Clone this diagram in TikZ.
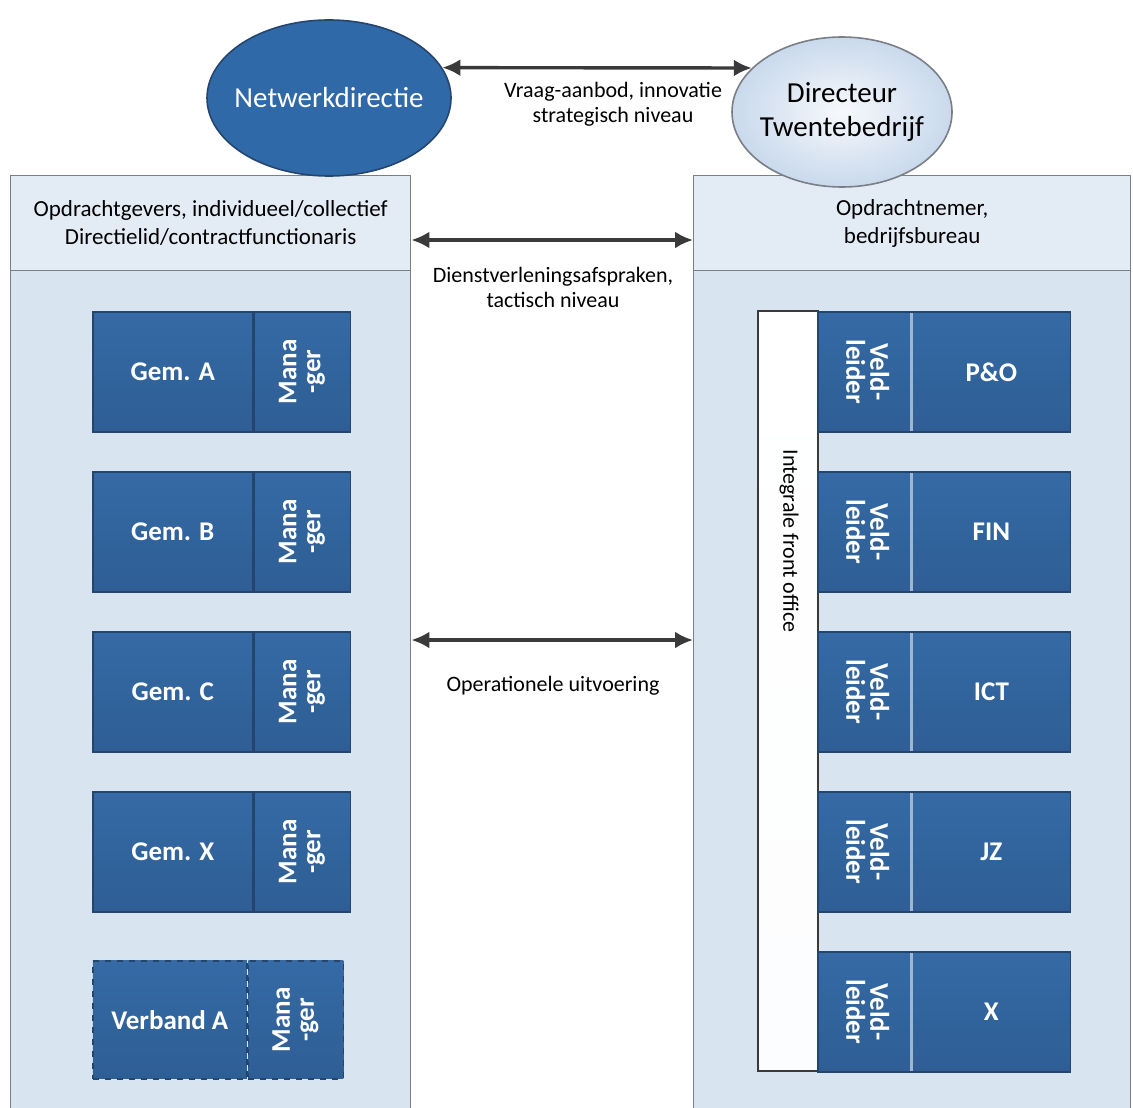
\documentclass[tikz,border=0pt]{standalone}
\usepackage{fontspec}
\setmainfont{Carlito}
\usetikzlibrary{arrows.meta,shapes.geometric}
\definecolor{boxblue}{HTML}{356AA5}
\definecolor{boxbluedk}{HTML}{2E5E94}
\definecolor{boxedge}{HTML}{24466E}
\definecolor{sepline}{HTML}{9FB5D0}
\definecolor{panelfill}{HTML}{D9E4F1}
\definecolor{headfill}{HTML}{E3EBF5}
\definecolor{paneledge}{HTML}{7A7F86}
\definecolor{arrowgray}{HTML}{3A3A3A}
\definecolor{lightell}{HTML}{C9D9EC}
\definecolor{ellblue}{HTML}{3069A8}
\newcommand{\vlab}[3]{\rotatebox{#1}{\begin{tabular}{@{}c@{}}#2\\[-3pt]#3\end{tabular}}}
\begin{document}
\begin{tikzpicture}[x=0.5pt,y=-0.5pt,
  panel/.style={draw=paneledge, fill=panelfill, line width=0.7pt, anchor=north west, inner sep=0pt},
  header/.style={draw=paneledge, fill=headfill, line width=0.7pt, anchor=north west, align=center,
    font=\fontsize{11.5}{14}\selectfont, inner sep=0pt},
  mainbox/.style={draw=boxedge, line width=0.8pt, top color=boxblue, bottom color=boxbluedk,
    anchor=north west, text=white, font=\fontsize{13.5}{16}\selectfont\bfseries, inner sep=0pt},
  sidebox/.style={mainbox, font=\fontsize{13.5}{15}\selectfont\bfseries},
  strip/.style={draw=arrowgray, line width=0.8pt, top color=white, bottom color=white!92!panelfill,
    anchor=north west, inner sep=0pt},
  oval/.style={ellipse, inner sep=0pt, line width=0.8pt},
  conn/.style={draw=arrowgray, line width=1.7pt,
    {Latex[length=9pt,width=8.5pt]}-{Latex[length=9pt,width=8.5pt]}},
  lbl/.style={align=center, font=\fontsize{11}{12.5}\selectfont, text=black}
]
\useasboundingbox (0,0) rectangle (1133,1107);
\clip (0,0) rectangle (1133,1107);
\fill[white] (0,0) rectangle (1133,1107);

% client side panel
\node[panel, minimum width=200pt, minimum height=470pt] (lp) at (10,175) {};
\node[header, minimum width=200pt, minimum height=47.5pt] (lh) at (10,175)
  {Opdrachtgevers, individueel/collectief\\Directielid/contractfunctionaris};

% contractor side panel
\node[panel, minimum width=218.5pt, minimum height=470pt] (rp) at (693,175) {};
\node[header, minimum width=218.5pt, minimum height=47.5pt] (rh) at (693,175)
  {Opdrachtnemer,\\bedrijfsbureau};

% municipalities with their managers
\node[mainbox, minimum width=80pt, minimum height=60pt] (ga) at (92,311) {Gem. A};
\node[sidebox, minimum width=48pt, minimum height=60pt] (ma) at (ga.north east) {\vlab{90}{Mana}{-ger}};
\node[mainbox, minimum width=80pt, minimum height=60pt] (gb) at (92,471) {Gem. B};
\node[sidebox, minimum width=48pt, minimum height=60pt] (mb) at (gb.north east) {\vlab{90}{Mana}{-ger}};
\node[mainbox, minimum width=80pt, minimum height=60pt] (gc) at (92,631) {Gem. C};
\node[sidebox, minimum width=48pt, minimum height=60pt] (mc) at (gc.north east) {\vlab{90}{Mana}{-ger}};
\node[mainbox, minimum width=80pt, minimum height=60pt] (gx) at (92,791) {Gem. X};
\node[sidebox, minimum width=48pt, minimum height=60pt] (mx) at (gx.north east) {\vlab{90}{Mana}{-ger}};
\node[mainbox, dashed, minimum width=77pt, minimum height=59pt] (va) at (92,960) {Verband A};
\node[sidebox, dashed, minimum width=47.5pt, minimum height=59pt] (mv) at (va.north east) {\vlab{90}{Mana}{-ger}};

% front office strip
\node[strip, minimum width=30pt, minimum height=380pt] (fo) at (757,310) {};
\node[rotate=-90, font=\fontsize{11}{13}\selectfont] (fot) at (789,541) {Integrale front office};

% departments with field leaders
\foreach \nm/\yy/\txt in {po/311/P\&O, fin/471/FIN, ict/631/ICT, jz/791/JZ, xx/951/X}{
  \node[sidebox, minimum width=46.5pt, minimum height=60pt] (v\nm) at (817,\yy) {\vlab{-90}{Veld-}{leider}};
  \node[mainbox, minimum width=79pt, minimum height=60pt] (d\nm) at (v\nm.north east) {\txt};
  \draw[sepline, line width=1.6pt] ([yshift=-1pt]v\nm.north east) -- ([yshift=1pt]v\nm.south east);
}

% directors
\node[oval, draw=boxedge, fill=ellblue, minimum width=122pt, minimum height=78pt] (nd) at (329,98) {};
\node[text=white, font=\fontsize{14.5}{17}\selectfont] (ndt) at (nd.center) {Netwerkdirectie};
\node[oval, draw=paneledge, inner color=white!85!lightell, outer color=lightell,
  minimum width=110pt, minimum height=75pt] (dt) at (842,112) {};
\node[align=center, font=\fontsize{14.5}{17}\selectfont] (dtt) at (dt.center) {Directeur\\Twentebedrijf};

% relations between the levels
\coordinate (y1) at (0,240);
\coordinate (y2) at (0,640);
\draw[conn] (nd.15) -- (dt.154);
\draw[conn] (lp.east |- y1) -- (rp.west |- y1);
\draw[conn] (lp.east |- y2) -- (rp.west |- y2);

\node[lbl] (t0) at (613,104) {Vraag-aanbod, innovatie\\strategisch niveau};
\node[lbl] (t1) at (553,287) {Dienstverleningsafspraken,\\tactisch niveau};
\node[lbl] (t2) at (553,686) {Operationele uitvoering};
\end{tikzpicture}
\end{document}
